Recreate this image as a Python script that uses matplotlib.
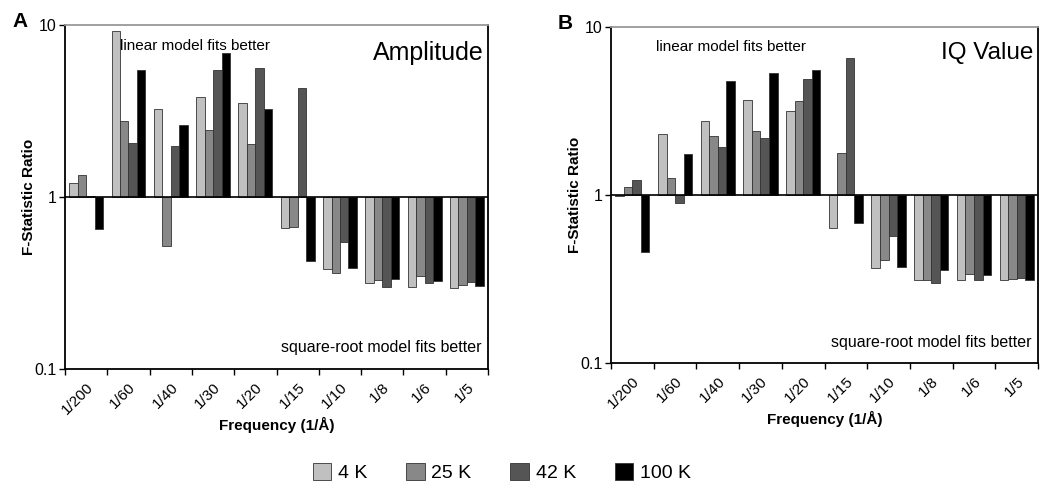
import numpy as np
import matplotlib
matplotlib.use("Agg")
import matplotlib.pyplot as plt
from matplotlib.patches import Patch

plt.rcParams['font.family'] = ['Liberation Sans', 'DejaVu Sans']

# data
freqs = ["1/200", "1/60", "1/40", "1/30", "1/20", "1/15", "1/10", "1/8", "1/6", "1/5"]
temps = ["4 K", "25 K", "42 K", "100 K"]
colors = ["#c0c0c0", "#888888", "#555555", "#000000"]

amp_4k = [1.20, 9.27, 3.26, 3.82, 3.53, 0.66, 0.383, 0.318, 0.301, 0.294]
amp_25k = [1.34, 2.77, 0.52, 2.45, 2.04, 0.67, 0.363, 0.329, 0.349, 0.306]
amp_42k = [1.02, 2.05, 1.97, 5.47, 5.62, 4.31, 0.547, 0.301, 0.315, 0.321]
amp_100k = [0.65, 5.47, 2.61, 6.90, 3.23, 0.425, 0.386, 0.332, 0.326, 0.305]

iq_4k = [0.99, 2.30, 2.74, 3.70, 3.16, 0.634, 0.367, 0.311, 0.313, 0.313]
iq_25k = [1.12, 1.27, 2.25, 2.39, 3.62, 1.77, 0.409, 0.314, 0.338, 0.318]
iq_42k = [1.22, 0.896, 1.94, 2.17, 4.91, 6.54, 0.573, 0.301, 0.313, 0.321]
iq_100k = [0.46, 1.76, 4.78, 5.31, 5.51, 0.685, 0.372, 0.358, 0.332, 0.313]

fig = plt.figure(figsize=(10.5, 4.9), dpi=100)
axA = fig.add_axes([0.0619, 0.2469, 0.4029, 0.702])
axB = fig.add_axes([0.5819, 0.2592, 0.4067, 0.6857])


def draw_panel(ax, series, title, title_size, letter, lin_x):
    x = np.arange(len(freqs))
    w = 0.2
    for i, vals in enumerate(series):
        vals = np.array(vals)
        ax.bar(x - 0.3 + i * w, vals - 1, bottom=1, width=w, color=colors[i],
               edgecolor="#333333", linewidth=0.6, zorder=2)
    ax.set_yscale("log")
    ax.set_ylim(0.1, 10)
    ax.set_xlim(-0.5, len(freqs) - 0.5)
    ax.axhline(1, color="black", lw=1.2, zorder=3)
    ax.set_yticks([0.1, 1, 10])
    ax.set_yticklabels(["0.1", "1", "10"], fontsize=11.5)
    ax.yaxis.set_minor_locator(matplotlib.ticker.NullLocator())
    ax.tick_params(axis="y", direction="out", length=4, width=1, pad=2)
    ax.set_xticks(x)
    ax.set_xticklabels(freqs, rotation=45, ha="right", rotation_mode="anchor", fontsize=11)
    ax.tick_params(axis="x", which="major", length=0, pad=8)
    ax.set_xticks(np.arange(-0.5, len(freqs)), minor=True)
    ax.tick_params(axis="x", which="minor", direction="out", length=4, width=1)
    for s in ["left", "bottom", "right"]:
        ax.spines[s].set_linewidth(1.3)
        ax.spines[s].set_color("black")
    ax.spines["top"].set_color("#999999")
    ax.spines["top"].set_linewidth(1.3)
    ax.set_ylabel("F-Statistic Ratio", fontsize=11, fontweight="bold", labelpad=-1)
    ax.set_xlabel("Frequency (1/Å)", fontsize=11, fontweight="bold", labelpad=0)
    ax.text(lin_x, 0.96, "linear model fits better", transform=ax.transAxes,
            fontsize=11, va="top", ha="left")
    ax.text(0.99, 0.955, title, transform=ax.transAxes, fontsize=title_size, va="top", ha="right")
    ax.text(0.985, 0.04, "square-root model fits better", transform=ax.transAxes,
            fontsize=11.5, va="bottom", ha="right")
    ax.text(-0.125, 1.01, letter, transform=ax.transAxes, fontsize=15,
            fontweight="bold", va="center", ha="left")


draw_panel(axA, [amp_4k, amp_25k, amp_42k, amp_100k], "Amplitude", 18, "A", 0.13)
draw_panel(axB, [iq_4k, iq_25k, iq_42k, iq_100k], "IQ Value", 17.5, "B", 0.105)

handles = [Patch(facecolor=c, edgecolor="#333333", linewidth=0.6) for c in colors]
fig.legend(handles, temps, loc="center", bbox_to_anchor=(0.478, 0.035), ncol=4,
           frameon=False, fontsize=14, handlelength=0.95, handleheight=0.95,
           handletextpad=0.35, columnspacing=2.0)

fig.savefig("out.png", dpi=100)
